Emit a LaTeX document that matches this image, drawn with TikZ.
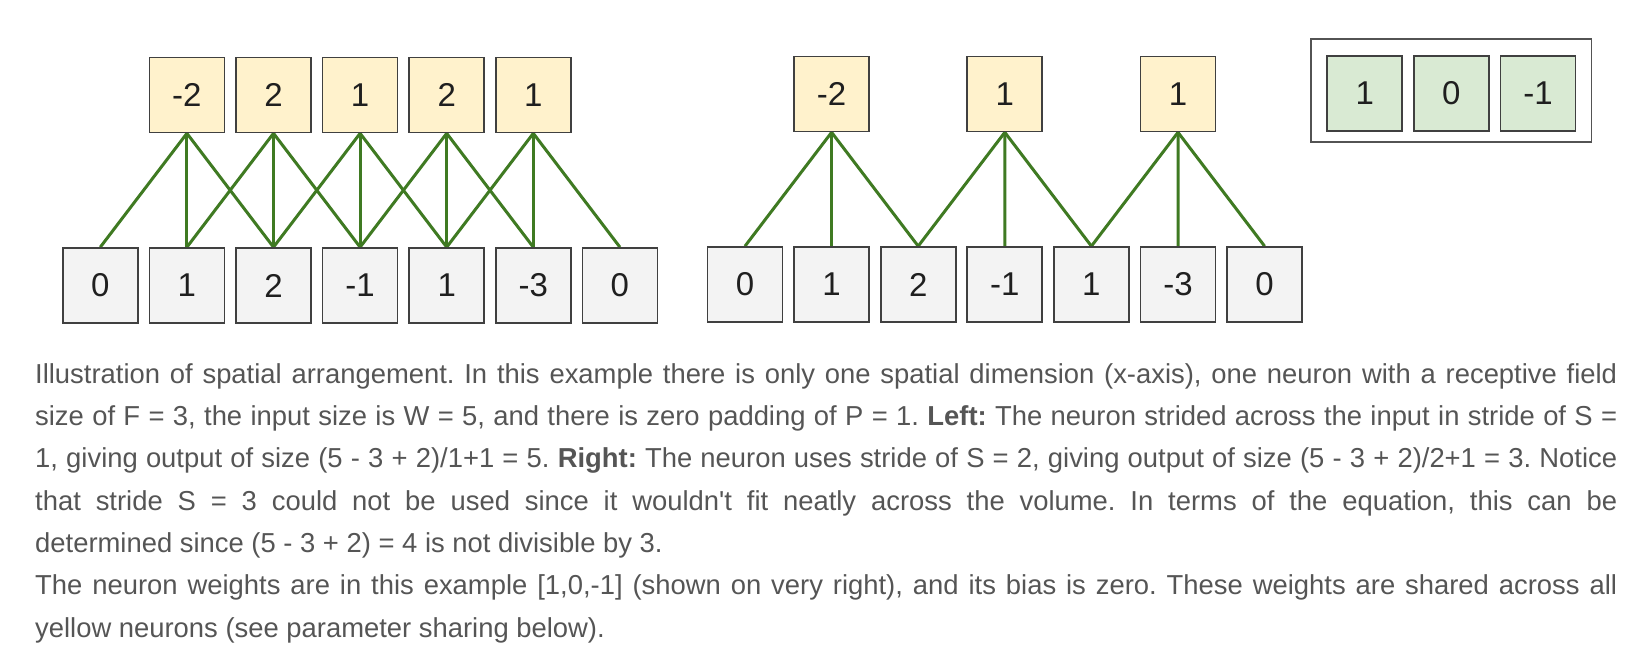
\documentclass[tikz,border=0pt]{standalone}
\usepackage{fontspec}
\setmainfont{Liberation Sans}
\usepackage{xcolor}
\definecolor{cellYellow}{HTML}{FFF2CC}
\definecolor{cellGray}{HTML}{F3F3F3}
\definecolor{cellGreen}{HTML}{D9EAD3}
\definecolor{linkGreen}{HTML}{3F7A22}
\definecolor{edgeGray}{HTML}{404040}
\definecolor{capGray}{HTML}{555555}
\usetikzlibrary{positioning, fit, backgrounds}
\newcommand\capjust[1]{\hbox to 1582pt{#1}}
\frenchspacing

\begin{document}
\begin{tikzpicture}[
    x=1pt, y=-1pt,
    every node/.style={font=\fontsize{33}{36}\selectfont},
    cell/.style={
        rectangle, draw=edgeGray, line width=1.7pt,
        minimum size=75pt, inner sep=0pt, text=black!88
    },
    inpcell/.style={cell, fill=cellGray},
    outcell/.style={cell, fill=cellYellow},
    wgtcell/.style={cell, fill=cellGreen},
    link/.style={linkGreen, line width=3pt},
    capline/.style={anchor=base west, inner sep=0pt, text=capGray,
        font=\fontsize{27.4}{30}\selectfont}
]
\useasboundingbox (0,0) rectangle (1636,660);

%% ---- Left: stride 1 ----
\foreach \v [count=\i from 0] in {0,1,2,-1,1,-3,0}
    \node[inpcell] (la\i) at (100.3+86.6*\i, 285.5) {\v};
\foreach \v [count=\i from 1] in {-2,2,1,2,1}
    \node[outcell] (lb\i) at (100.3+86.6*\i, 95) {\v};

%% ---- Right: stride 2 ----
\foreach \v [count=\i from 0] in {0,1,2,-1,1,-3,0}
    \node[inpcell] (ra\i) at (745+86.6*\i, 284.5) {\v};
\node[outcell] (rb1) at (831.6, 94) {-2};
\node[outcell] (rb3) at (1004.8, 94) {1};
\node[outcell] (rb5) at (1178, 94) {1};

%% ---- Connections ----
\begin{scope}[on background layer]
\foreach \i in {1,...,5}
    \foreach \d in {-1,0,1} {
        \pgfmathtruncatemacro\j{\i+\d}
        \draw[link] (lb\i.south) -- (la\j.north);
    }
\foreach \i in {1,3,5}
    \foreach \d in {-1,0,1} {
        \pgfmathtruncatemacro\j{\i+\d}
        \draw[link] (rb\i.south) -- (ra\j.north);
    }
\end{scope}

%% ---- Weights ----
\node[wgtcell] (w1) at (1364.7, 93.4) {1};
\node[wgtcell] (w2) at (1451.4, 93.4) {0};
\node[wgtcell] (w3) at (1538.1, 93.4) {-1};
\node[draw=edgeGray!90, line width=1.8pt, fit=(w1)(w3),
    inner xsep=15pt, inner ysep=13pt, yshift=3pt] (wbox) {};

%% ---- Caption ----
\node[capline] (c1) at (35, 383.3) {\capjust{Illustration of spatial arrangement. In this example there is only one spatial dimension (x-axis), one neuron with a receptive field}};
\node[capline] (c2) at (35, 425.6) {\capjust{size of F = 3, the input size is W = 5, and there is zero padding of P = 1. \textbf{Left:} The neuron strided across the input in stride of S =}};
\node[capline] (c3) at (35, 467.9) {\capjust{1, giving output of size (5 - 3 + 2)/1+1 = 5. \textbf{Right:} The neuron uses stride of S = 2, giving output of size (5 - 3 + 2)/2+1 = 3. Notice}};
\node[capline] (c4) at (35, 510.2) {\capjust{that stride S = 3 could not be used since it wouldn\textquotesingle t fit neatly across the volume. In terms of the equation, this can be}};
\node[capline] (c5) at (35, 552.5) {determined since (5 - 3 + 2) = 4 is not divisible by 3.};
\node[capline] (c6) at (35, 594.8) {\capjust{The neuron weights are in this example [1,0,-1] (shown on very right), and its bias is zero. These weights are shared across all}};
\node[capline] (c7) at (35, 637.1) {yellow neurons (see parameter sharing below).};

\end{tikzpicture}
\end{document}
